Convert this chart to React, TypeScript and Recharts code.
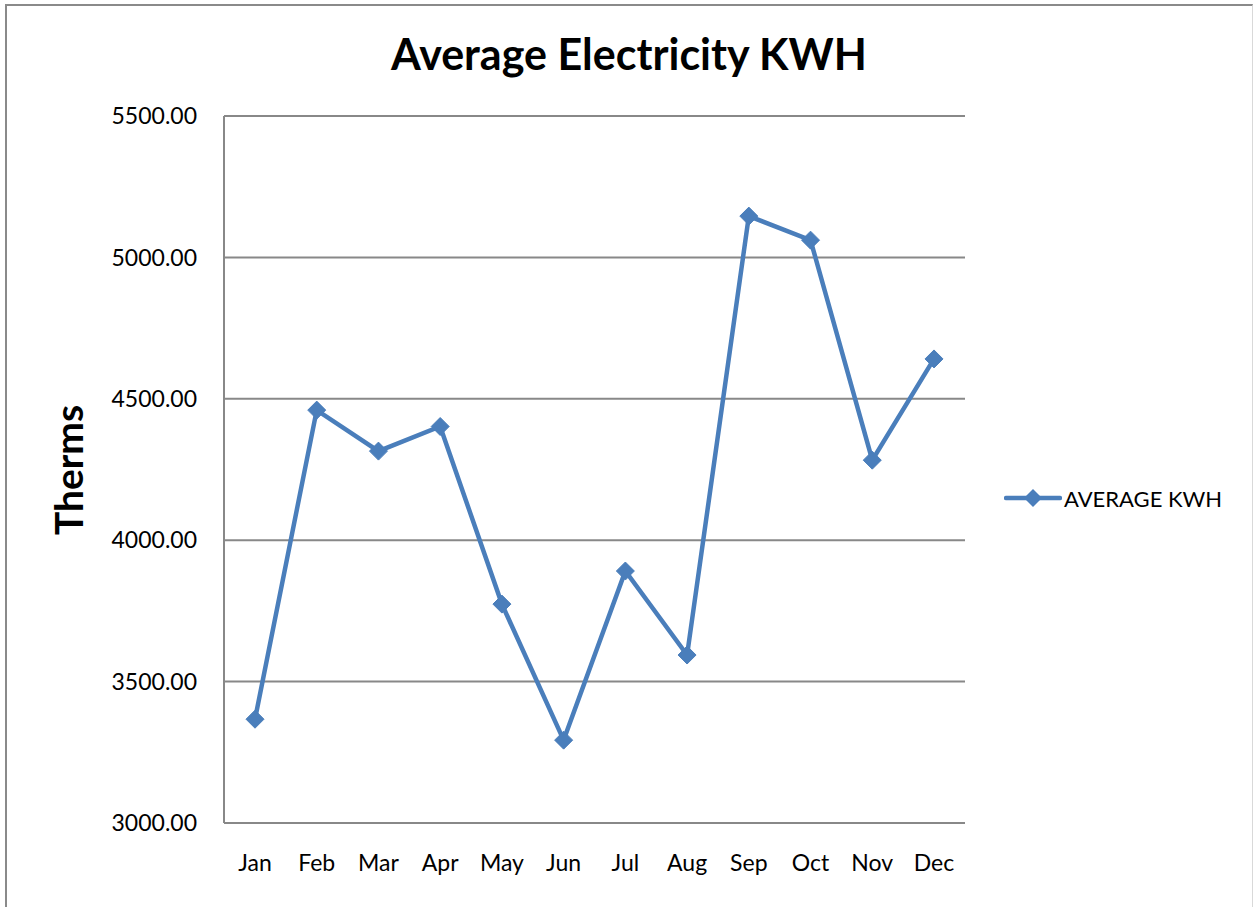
import { LineChart, Line, XAxis, YAxis, CartesianGrid } from 'recharts';

const months = ['Jan', 'Feb', 'Mar', 'Apr', 'May', 'Jun', 'Jul', 'Aug', 'Sep', 'Oct', 'Nov', 'Dec'];
const averageKwh = [3367, 4460, 4315, 4402, 3774, 3293, 3891, 3594, 5146, 5061, 4283, 4641];
const yTicks = [3000, 3500, 4000, 4500, 5000, 5500];

const BLUE = '#4A7EBB';
const GRID = '#888888';
const FONT = 'Lato, "Open Sans", sans-serif';

const data = months.map((m, i) => ({ month: m, kwh: averageKwh[i] }));

// diamond marker like the Excel one
const Diamond = (props: any) => {
  const { cx, cy } = props;
  if (cx == null || cy == null) return null;
  const r = 9;
  return (
    <polygon
      points={`${cx},${cy - r} ${cx + r},${cy} ${cx},${cy + r} ${cx - r},${cy}`}
      fill={BLUE}
      stroke={BLUE}
      strokeWidth={1}
    />
  );
};

export default function App() {
  return (
    <div style={{ position: 'absolute', left: 0, top: 0, width: 1253, height: 907, background: '#fff', fontFamily: FONT, overflow: 'hidden' }}>
      <div
        style={{
          position: 'absolute',
          left: 5,
          top: 4,
          width: 1245,
          height: 920,
          borderTop: '2px solid #8a8a8a',
          borderLeft: '2px solid #8a8a8a',
          borderRight: '1px solid #d9d9d9',
        }}
      />
      <div
        style={{
          position: 'absolute',
          left: 0,
          width: 1258,
          top: 28,
          textAlign: 'center',
          fontSize: 43,
          fontWeight: 700,
          color: '#000',
        }}
      >
        Average Electricity KWH
      </div>
      <div
        style={{
          position: 'absolute',
          left: 68,
          top: 470,
          transform: 'translate(-50%, -50%) rotate(-90deg)',
          fontSize: 39,
          fontWeight: 700,
          color: '#000',
          whiteSpace: 'nowrap',
        }}
      >
        Therms
      </div>
      <LineChart
        width={1253}
        height={907}
        data={data}
        margin={{ top: 116, right: 288, bottom: 24, left: 124 }}
        style={{ position: 'absolute', left: 0, top: 0 }}
      >
        <CartesianGrid vertical={false} stroke={GRID} strokeWidth={2} />
        <XAxis
          dataKey="month"
          height={60}
          padding={{ left: 31, right: 31 }}
          axisLine={{ stroke: GRID, strokeWidth: 2 }}
          tickLine={false}
          tickSize={0}
          tickMargin={32}
          interval={0}
          tick={{ fill: '#000', fontSize: 23, fontFamily: FONT }}
        />
        <YAxis
          width={100}
          domain={[3000, 5500]}
          ticks={yTicks}
          allowDataOverflow
          axisLine={{ stroke: GRID, strokeWidth: 2 }}
          tickLine={false}
          tickSize={0}
          tickMargin={27}
          tickFormatter={(v: number) => v.toFixed(2)}
          tick={{ fill: '#000', fontSize: 23, fontFamily: FONT }}
        />
        <Line
          type="linear"
          dataKey="kwh"
          name="AVERAGE KWH"
          stroke={BLUE}
          strokeWidth={4.5}
          dot={<Diamond />}
          activeDot={false}
          isAnimationActive={false}
        />
      </LineChart>
      <div style={{ position: 'absolute', left: 1004, top: 484, display: 'flex', alignItems: 'center' }}>
        <svg width={58} height={28}>
          <line x1={2} y1={14} x2={56} y2={14} stroke={BLUE} strokeWidth={4.5} strokeLinecap="round" />
          <polygon points="29,5 38,14 29,23 20,14" fill={BLUE} />
        </svg>
        <span style={{ fontSize: 22, color: '#000', marginLeft: 2 }}>AVERAGE KWH</span>
      </div>
    </div>
  );
}
